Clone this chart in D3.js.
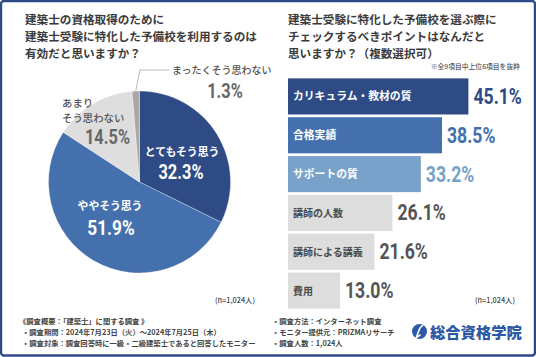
<!DOCTYPE html>
<html><head><meta charset="utf-8">
<script src="https://cdn.jsdelivr.net/npm/d3@7/dist/d3.min.js"></script>
<style>
html,body{margin:0;padding:0;background:#fff;}
svg{display:block;font-family:"Noto Sans CJK JP","Noto Sans",sans-serif;}
</style></head>
<body>
<svg id="c" width="536" height="357"></svg>
<script>
// ---- data ----
const pieTitle = ["建築士の資格取得のために","建築士受験に特化した予備校を利用するのは","有効だと思いますか？"];
const pieCategories = ["とてもそう思う","ややそう思う","あまりそう思わない","まったくそう思わない"];
const pieValues = [32.3, 51.9, 14.5, 1.3];
const pieColors = ["#2e4b86","#4471ad","#dedede","#a9a9a9"];

const barTitle = ["建築士受験に特化した予備校を選ぶ際に","チェックするべきポイントはなんだと","思いますか？（複数選択可）"];
const barNote = "※全9項目中上位6項目を抜粋";
const barCategories = ["カリキュラム・教材の質","合格実績","サポートの質","講師の人数","講師による講義","費用"];
const barValues = [45.1, 38.5, 33.2, 26.1, 21.6, 13.0];
const barColors = ["#2e4b86","#4471ad","#78a2c9","#dddddd","#dddddd","#dddddd"];
const barLabelColors = ["#fff","#fff","#fff","#4a4a4a","#4a4a4a","#4a4a4a"];
const barValueColors = ["#2e4b86","#4471ad","#78a2c9","#555","#555","#555"];

const sampleNote = "(n=1,024人)";
const footLeft = ["《調査概要：「建築士」に関する調査 》","・調査期間：2024年7月23日（火）～2024年7月25日（木）","・調査対象：調査回答時に一級・二級建築士であると回答したモニター"];
const footRight = ["・調査方法：インターネット調査","・モニター提供元：PRIZMAリサーチ","・調査人数：1,024人"];
const logoText = "総合資格学院";

const svg = d3.select("#c");
const numFont = "Roboto, 'Liberation Sans', sans-serif";

// frame
svg.append("rect").attr("x",1).attr("y",1).attr("width",534).attr("height",354.5)
  .attr("rx",3).attr("fill","#fff").attr("stroke","#2e4a85").attr("stroke-width",2.4);

// titles
function title(lines, x, y0){
  lines.forEach((t,i)=>{
    svg.append("text").attr("x",x).attr("y",y0+i*17).text(t)
      .attr("font-size",11.6).attr("font-weight",700).attr("fill","#3b3b3b");
  });
}
title(pieTitle, 25, 24);
title(barTitle, 288, 24);

// ---- pie ----
const cx = 139.5, cy = 182, r = 91;
const pie = d3.pie().sort(null).value(d=>d)(pieValues);
const arc = d3.arc().innerRadius(0).outerRadius(r);
const g = svg.append("g").attr("transform",`translate(${cx},${cy})`);
g.selectAll("path").data(pie).join("path").attr("d",arc)
  .attr("fill",(d,i)=>pieColors[i]).attr("stroke","#fff").attr("stroke-width",0.3);

function pct(v){ return v.toFixed(1)+"%"; }
function numText(x,y,str,size,color,anchor){
  return svg.append("text").attr("transform",`translate(${x},${y}) scale(0.82,1)`)
    .style("font-family",numFont).attr("font-weight",700).attr("font-size",size)
    .attr("fill",color).attr("text-anchor",anchor||"start").text(str);
}
function jpText(x,y,str,size,color,anchor,weight){
  return svg.append("text").attr("x",x).attr("y",y).text(str)
    .attr("font-size",size).attr("font-weight",weight||700).attr("fill",color)
    .attr("text-anchor",anchor||"start");
}
// slice labels
jpText(182,156,pieCategories[0],10.8,"#fff","middle");
numText(181,178.5,pct(pieValues[0]),20,"#fff","middle");
jpText(110,210,pieCategories[1],10.8,"#fff","middle");
numText(111,234.5,pct(pieValues[1]),21,"#fff","middle");
jpText(62,106.5,pieCategories[2].slice(0,3),10.4,"#555","start",500);
jpText(62,121.5,pieCategories[2].slice(3),10.4,"#555","start",500);
numText(130,143.5,pct(pieValues[2]),20,"#666","end");
jpText(172,74,pieCategories[3],10,"#555","start",500);
numText(225,97.5,pct(pieValues[3]),20,"#666","middle");
// leader line for smallest slice
const a = (pie[3].startAngle+pie[3].endAngle)/2;
const px = cx + Math.sin(a)*r, py = cy - Math.cos(a)*r;
svg.append("polyline").attr("points",`${px},${py} ${px+4},${70} ${169},${70}`)
  .attr("fill","none").attr("stroke","#aaa").attr("stroke-width",0.8);

// ---- bars ----
const x = d3.scaleLinear().domain([0,50]).range([288,488]);
const y = d3.scaleBand().domain(barCategories).range([78,309]).paddingInner(0.07).paddingOuter(0.01);
const bg = svg.append("g");
bg.selectAll("rect").data(barValues).join("rect")
  .attr("x",x(0)).attr("y",(d,i)=>y(barCategories[i]))
  .attr("width",d=>x(d)-x(0)).attr("height",y.bandwidth())
  .attr("fill",(d,i)=>barColors[i]);
barCategories.forEach((c,i)=>{
  const yc = y(c)+y.bandwidth()/2;
  jpText(x(0)+5, yc+4, c, i<3?10.8:10, barLabelColors[i]);
  numText(x(barValues[i])+5, yc+7.5, pct(barValues[i]), 21.5, barValueColors[i]);
});
svg.append("text").attr("x",520).attr("y",69).attr("text-anchor","end")
  .attr("font-size",6.8).attr("font-weight",500).attr("fill","#555").text(barNote);

// n notes
jpText(255,303,sampleNote,7.3,"#444","end",500);
jpText(515,303,sampleNote,7.3,"#444","end",500);

// footers
footLeft.forEach((t,i)=>jpText(i===0?19:22,324+i*11,t,7.3,"#444","start",700));
footRight.forEach((t,i)=>jpText(272,324+i*11,t,7.3,"#444","start",700));

// logo
svg.append("circle").attr("cx",419.5).attr("cy",331.5).attr("r",7.5).attr("fill","#2b59a6");
svg.append("path").attr("d","M422.5,325.5 C419,327 418.5,333 416,338 M416,338 C417.5,336 419,336.5 420,335")
  .attr("fill","none").attr("stroke","#fff").attr("stroke-width",1.6).attr("stroke-linecap","round");
jpText(430,337.5,logoText,15.3,"#2b59a6","start",900);
</script>
</body></html>
